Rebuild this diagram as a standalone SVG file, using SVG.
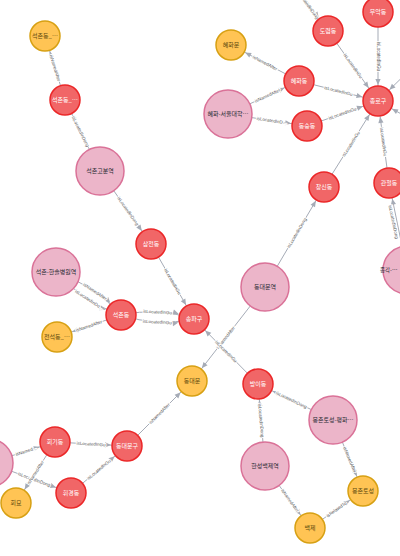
<svg xmlns="http://www.w3.org/2000/svg" width="400" height="556" viewBox="0 0 400 556">
<style>
.e{stroke:#A5ABB6;stroke-width:1;fill:none;marker-end:url(#arr)}
.el{font-family:"Liberation Sans",Arial,sans-serif;font-size:4.5px;fill:#555;text-anchor:middle;stroke:#fff;stroke-width:2px;paint-order:stroke;stroke-linejoin:round}
.r circle{fill:#F16667;stroke:#EB2728;stroke-width:1.5}
.y circle{fill:#FFC454;stroke:#D7A013;stroke-width:1.5}
.p circle{fill:#ECB5C9;stroke:#DA7298;stroke-width:1.5}
text.n{font-family:"Noto Sans CJK KR","Noto Sans",sans-serif;font-size:6px;text-anchor:middle}
.r text{fill:#FFFFFF}
.y text{fill:#604A0E}
.p text{fill:#2A2C34}
</style>
<defs>
<marker id="arr" markerUnits="userSpaceOnUse" orient="auto" refX="0" refY="0" markerWidth="10" markerHeight="10" overflow="visible">
<path d="M-16,0 L-22,-2.6 L-22,2.6 Z" fill="#A5ABB6"/>
</marker>
</defs>
<rect width="400" height="556" fill="#fff"/>
<g id="connectors">
<line class="e" x1="65" y1="100" x2="45" y2="36"/>
<text class="el" transform="translate(55,68) rotate(72.6)" dy="1.5">isNamedAfter</text>
<line class="e" x1="100" y1="171" x2="65" y2="100"/>
<text class="el" transform="translate(80.5,131.5) rotate(63.8)" dy="1.5">isLocatedInDong</text>
<line class="e" x1="100" y1="171" x2="151" y2="244"/>
<text class="el" transform="translate(128,211) rotate(55.1)" dy="1.5">isLocatedInDong</text>
<line class="e" x1="151" y1="244" x2="194" y2="319"/>
<text class="el" transform="translate(172.5,281.5) rotate(60.2)" dy="1.5">isLocatedInGu</text>
<path class="e" d="M56,272 Q94,285 121,315"/>
<text class="el" transform="translate(95,291.5) rotate(33.5)" dy="1.5">isNamedAfter</text>
<path class="e" d="M56,272 Q83,302 121,315"/>
<text class="el" transform="translate(89.5,300) rotate(33.5)" dy="1.5">isLocatedInDo…</text>
<line class="e" x1="121" y1="315" x2="57" y2="337"/>
<text class="el" transform="translate(89,326) rotate(-19)" dy="1.5">isNamedAfter</text>
<path class="e" d="M121,315 Q158,307 194,319"/>
<text class="el" transform="translate(157.7,312) rotate(3)" dy="1.5">isLocatedInGu</text>
<path class="e" d="M121,315 Q157,327 194,319"/>
<text class="el" transform="translate(157.3,322) rotate(3)" dy="1.5">isLocatedInGu</text>
<line class="e" x1="265" y1="287" x2="324" y2="187"/>
<text class="el" transform="translate(296.8,233) rotate(-59.5)" dy="1.5">isLocatedInDong</text>
<line class="e" x1="265" y1="287" x2="192" y2="381"/>
<text class="el" transform="translate(225.7,337.6) rotate(-52.2)" dy="1.5">isNamedAfter</text>
<line class="e" x1="258" y1="384" x2="194" y2="319"/>
<text class="el" transform="translate(226,351.5) rotate(45.4)" dy="1.5">isLocatedInGu</text>
<line class="e" x1="333" y1="420" x2="258" y2="384"/>
<text class="el" transform="translate(291.4,400) rotate(25.6)" dy="1.5">isLocatedInDong</text>
<line class="e" x1="265" y1="466" x2="258" y2="384"/>
<text class="el" transform="translate(261.1,420.5) rotate(85.1)" dy="1.5">isLocatedInDong</text>
<line class="e" x1="333" y1="420" x2="363" y2="491"/>
<text class="el" transform="translate(349.8,459.6) rotate(67.1)" dy="1.5">isNamedAfter</text>
<line class="e" x1="265" y1="466" x2="310" y2="528"/>
<text class="el" transform="translate(290.1,500.6) rotate(54)" dy="1.5">isNamedAfter</text>
<line class="e" x1="310" y1="528" x2="363" y2="491"/>
<text class="el" transform="translate(336.5,509.5) rotate(-34.9)" dy="1.5">isRelatedTo</text>
<line class="e" x1="127" y1="446" x2="192" y2="381"/>
<text class="el" transform="translate(159.5,413.5) rotate(-45)" dy="1.5">isNamedAfter</text>
<line class="e" x1="55" y1="442" x2="127" y2="446"/>
<text class="el" transform="translate(91,444) rotate(3.2)" dy="1.5">isLocatedInGu</text>
<line class="e" x1="71" y1="493" x2="127" y2="446"/>
<text class="el" transform="translate(99,469.5) rotate(-40)" dy="1.5">isLocatedInGu</text>
<line class="e" x1="-11" y1="463" x2="55" y2="442"/>
<text class="el" transform="translate(26.3,451.1) rotate(-17.6)" dy="1.5">isNamed…</text>
<line class="e" x1="-11" y1="463" x2="71" y2="493"/>
<text class="el" transform="translate(34.2,479.5) rotate(20.1)" dy="1.5">isLocatedInDong</text>
<line class="e" x1="55" y1="442" x2="16" y2="503"/>
<text class="el" transform="translate(35.5,472.5) rotate(-57.4)" dy="1.5">isNamedAfter</text>
<line class="e" x1="299" y1="81" x2="231" y2="45"/>
<text class="el" transform="translate(265,63) rotate(27.9)" dy="1.5">isNamedAfter</text>
<line class="e" x1="228" y1="114" x2="299" y2="81"/>
<text class="el" transform="translate(267.6,95.6) rotate(-24.9)" dy="1.5">isNamedAfter</text>
<line class="e" x1="228" y1="114" x2="307" y2="126"/>
<text class="el" transform="translate(272,120.7) rotate(8.6)" dy="1.5">isLocatedInD…</text>
<line class="e" x1="299" y1="81" x2="378" y2="101"/>
<text class="el" transform="translate(338.5,91) rotate(14.2)" dy="1.5">isLocatedInGu</text>
<line class="e" x1="307" y1="126" x2="378" y2="101"/>
<text class="el" transform="translate(342.5,113.5) rotate(-19.4)" dy="1.5">isLocatedInGu</text>
<line class="e" x1="328" y1="31" x2="378" y2="101"/>
<text class="el" transform="translate(353,66) rotate(54.5)" dy="1.5">isLocatedInGu</text>
<line class="e" x1="378" y1="12" x2="378" y2="101"/>
<text class="el" transform="translate(378,56.5) rotate(90)" dy="1.5">isLocatedInGu</text>
<line class="e" x1="285" y1="-30" x2="328" y2="31"/>
<text class="el" transform="translate(308,5) rotate(54.8)" dy="1.5">isLocatedInDong</text>
<line class="e" x1="324" y1="187" x2="378" y2="101"/>
<text class="el" transform="translate(351,144) rotate(-57.9)" dy="1.5">isLocatedInGu</text>
<line class="e" x1="389" y1="183" x2="378" y2="101"/>
<text class="el" transform="translate(383.5,142) rotate(82.4)" dy="1.5">isLocatedInGu</text>
<line class="e" x1="407" y1="270" x2="389" y2="183"/>
<text class="el" transform="translate(393.5,222) rotate(78.3)" dy="1.5">isLocatedInDong</text>
<line class="e" x1="425" y1="55" x2="378" y2="101"/>
<line class="e" x1="430" y1="130" x2="378" y2="101"/>
</g>
<g id="n-seokchondong-y1" class="y"><circle cx="45" cy="36" r="15"/><text class="n" x="45" y="38">석촌동_…</text></g>
<g id="n-seokchondong-r1" class="r"><circle cx="65" cy="100" r="15"/><text class="n" x="65" y="102">석촌동_…</text></g>
<g id="n-seokchongobun" class="p"><circle cx="100" cy="171" r="24"/><text class="n" x="100" y="173">석촌고분역</text></g>
<g id="n-samjeondong" class="r"><circle cx="151" cy="244" r="15"/><text class="n" x="151" y="246">삼전동</text></g>
<g id="n-seokchon-hansol" class="p"><circle cx="56" cy="272" r="24"/><text class="n" x="56" y="274">석촌-한솔병원역</text></g>
<g id="n-seokchondong" class="r"><circle cx="121" cy="315" r="15"/><text class="n" x="121" y="317">석촌동</text></g>
<g id="n-jeonseok" class="y"><circle cx="57" cy="337" r="15"/><text class="n" x="57" y="339">전석동_…</text></g>
<g id="n-songpagu" class="r"><circle cx="194" cy="319" r="15"/><text class="n" x="194" y="321">송파구</text></g>
<g id="n-dongdaemun-st" class="p"><circle cx="265" cy="287" r="24"/><text class="n" x="265" y="289">동대문역</text></g>
<g id="n-dongdaemun" class="y"><circle cx="192" cy="381" r="15"/><text class="n" x="192" y="383">동대문</text></g>
<g id="n-bangidong" class="r"><circle cx="258" cy="384" r="15"/><text class="n" x="258" y="386">방이동</text></g>
<g id="n-mongchon-st" class="p"><circle cx="333" cy="420" r="24"/><text class="n" x="333" y="422">몽촌토성-평화…</text></g>
<g id="n-hanseong-st" class="p"><circle cx="265" cy="466" r="24"/><text class="n" x="265" y="468">한성백제역</text></g>
<g id="n-mongchon" class="y"><circle cx="363" cy="491" r="15"/><text class="n" x="363" y="493">몽촌토성</text></g>
<g id="n-baekje" class="y"><circle cx="310" cy="528" r="15"/><text class="n" x="310" y="530">백제</text></g>
<g id="n-dongdaemungu" class="r"><circle cx="127" cy="446" r="15"/><text class="n" x="127" y="448">동대문구</text></g>
<g id="n-hoegidong" class="r"><circle cx="55" cy="442" r="15"/><text class="n" x="55" y="444">회기동</text></g>
<g id="n-hwigyeongdong" class="r"><circle cx="71" cy="493" r="15"/><text class="n" x="71" y="495">휘경동</text></g>
<g id="n-hoemyo" class="y"><circle cx="16" cy="503" r="15"/><text class="n" x="16" y="505">회묘</text></g>
<g id="n-station-left" class="p"><circle cx="-11" cy="463" r="24"/></g>
<g id="n-changsindong" class="r"><circle cx="324" cy="187" r="15"/><text class="n" x="324" y="189">창신동</text></g>
<g id="n-gwancheoldong" class="r"><circle cx="389" cy="183" r="15"/><text class="n" x="389" y="185">관철동</text></g>
<g id="n-jonggak" class="p"><circle cx="407" cy="270" r="24"/><text class="n" x="380" y="272" style="text-anchor:start;font-size:5.5px">종각-…</text></g>
<g id="n-jongnogu" class="r"><circle cx="378" cy="101" r="15"/><text class="n" x="378" y="103">종로구</text></g>
<g id="n-hyehwadong" class="r"><circle cx="299" cy="81" r="15"/><text class="n" x="299" y="83">혜화동</text></g>
<g id="n-hyehwamun" class="y"><circle cx="231" cy="45" r="15"/><text class="n" x="231" y="47">혜화문</text></g>
<g id="n-hyehwa-st" class="p"><circle cx="228" cy="114" r="24"/><text class="n" x="228" y="116">혜화-서울대학…</text></g>
<g id="n-dongsungdong" class="r"><circle cx="307" cy="126" r="15"/><text class="n" x="307" y="128">동숭동</text></g>
<g id="n-doryeomdong" class="r"><circle cx="328" cy="31" r="15"/><text class="n" x="328" y="33">도렴동</text></g>
<g id="n-muakdong" class="r"><circle cx="378" cy="12" r="15"/><text class="n" x="378" y="14">무악동</text></g>
</svg>
